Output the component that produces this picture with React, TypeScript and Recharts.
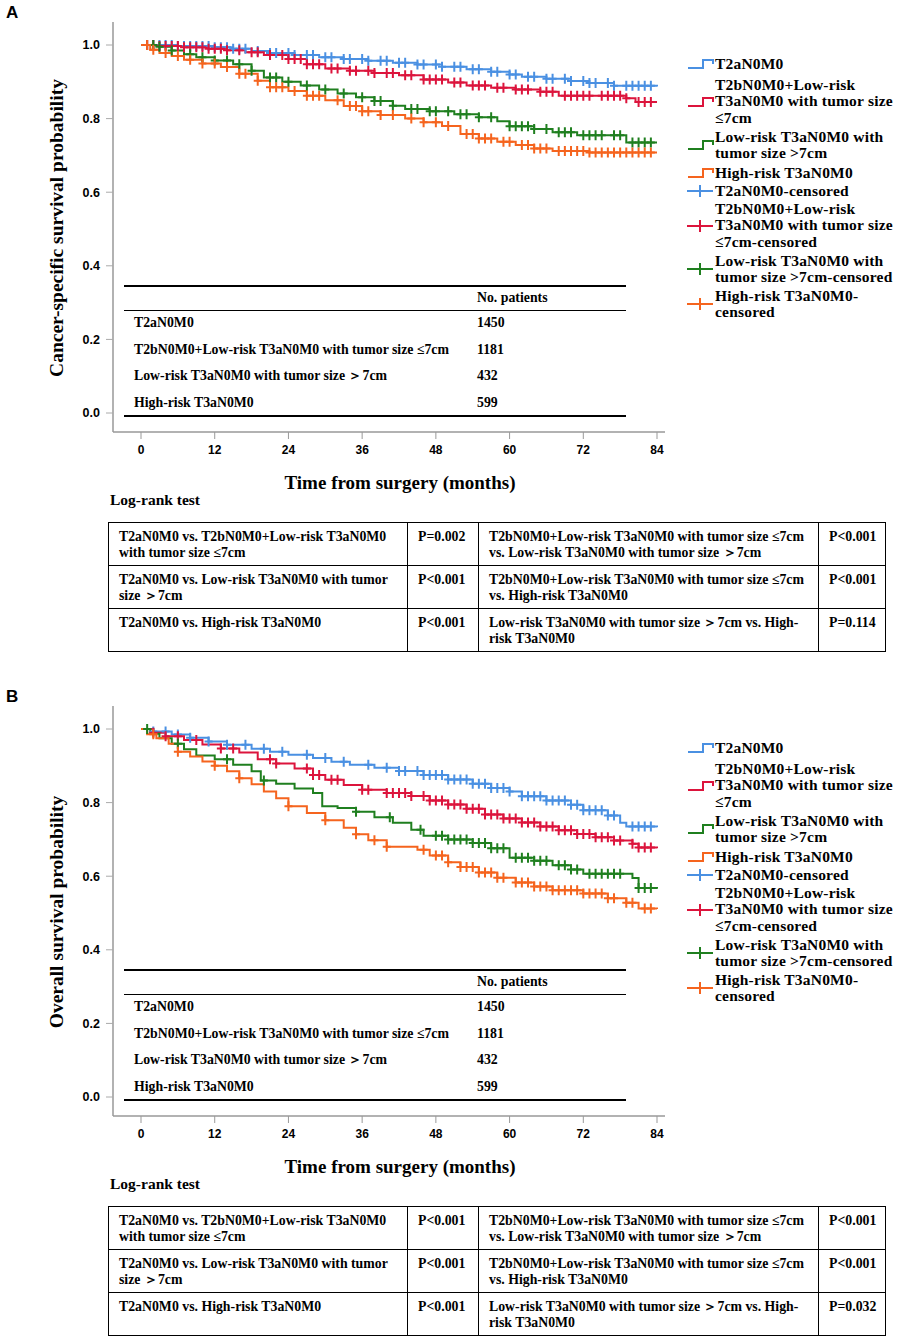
import React from 'react';
import { ComposedChart, Line, Scatter, XAxis, YAxis } from 'recharts';

type Pt = [number, number];

const months = [0, 12, 24, 36, 48, 60, 72, 84];
const survTicks = [0, 0.2, 0.4, 0.6, 0.8, 1.0];
const colors = ['#4a90e2', '#dc143c', '#1f7f1f', '#f5641e'];

const groups = [
  'T2aN0M0',
  'T2bN0M0+Low-risk T3aN0M0 with tumor size ≤7cm',
  'Low-risk T3aN0M0 with tumor size ＞7cm',
  'High-risk T3aN0M0',
];
const patients = [1450, 1181, 432, 599];

// cancer-specific survival, step points [month, survival]
const cssT2a: Pt[] = [[0, 1], [6, 0.997], [12, 0.994], [15, 0.99], [18, 0.984], [21, 0.978], [25, 0.973], [29, 0.967], [33, 0.962], [37, 0.957], [41, 0.952], [45, 0.947], [49, 0.941], [53, 0.934], [57, 0.927], [60, 0.92], [62, 0.914], [66, 0.908], [70, 0.902], [73, 0.897], [77, 0.889], [84, 0.887]];
const cssT2b: Pt[] = [[0, 1], [3, 0.997], [7, 0.994], [11, 0.99], [14, 0.986], [17, 0.98], [20, 0.973], [24, 0.962], [27, 0.948], [30, 0.936], [34, 0.93], [38, 0.924], [42, 0.918], [46, 0.906], [50, 0.898], [53, 0.89], [57, 0.884], [61, 0.879], [65, 0.873], [68, 0.862], [79, 0.855], [80.5, 0.845], [84, 0.845]];
const cssLow: Pt[] = [[0, 1], [3, 0.995], [5, 0.985], [7, 0.975], [9, 0.967], [12, 0.958], [15, 0.948], [18, 0.93], [20, 0.912], [23, 0.9], [26, 0.89], [29, 0.879], [32, 0.868], [35, 0.858], [38, 0.848], [41, 0.835], [43, 0.826], [47, 0.82], [51, 0.812], [55, 0.804], [58, 0.793], [60, 0.779], [64, 0.772], [67, 0.763], [71, 0.755], [79, 0.735], [84, 0.735]];
const cssHigh: Pt[] = [[0, 1], [1.5, 0.987], [3, 0.978], [5, 0.97], [7, 0.96], [10, 0.95], [13, 0.94], [16, 0.922], [19, 0.903], [21, 0.885], [24, 0.875], [27, 0.862], [30, 0.85], [33, 0.834], [36, 0.82], [39, 0.81], [43, 0.8], [46, 0.79], [49, 0.78], [52, 0.758], [55, 0.746], [58, 0.737], [61, 0.728], [64, 0.719], [67, 0.712], [73, 0.708], [84, 0.708]];

// censoring times (months)
const cssT2aCens = [1, 2, 3, 4, 5, 6, 7, 8, 9, 10, 11, 12, 13, 14, 15, 16, 17, 19, 21, 22, 24, 25, 27, 28, 30, 31, 33, 34, 36, 37, 39, 40, 42, 43, 45, 46, 48, 49, 51, 52, 54, 55, 57, 58, 60, 61, 63, 64, 66, 67, 69, 70, 72, 73, 74, 76, 77, 79, 80, 81, 82, 83];
const cssT2bCens = [1, 2, 3, 4, 5, 6, 7, 8, 9, 10, 11, 12, 13, 14, 16, 18, 19, 21, 23, 24, 25, 26, 27, 28, 29, 31, 32, 34, 35, 37, 38, 40, 41, 43, 44, 46, 47, 48, 49, 51, 52, 54, 55, 56, 58, 59, 61, 62, 63, 65, 66, 67, 69, 70, 71, 72, 73, 75, 76, 77, 78, 79, 81, 82, 83];
const cssLowCens = [2, 3, 5, 8, 10, 12, 14, 16, 18, 21, 22, 24, 27, 30, 33, 36, 38, 39, 41, 44, 45, 47, 48, 50, 52, 53, 55, 57, 60, 61, 62, 63, 64, 66, 68, 69, 70, 72, 73, 74, 75, 77, 78, 80, 81, 82, 83];
const cssHighCens = [1, 2, 4, 6, 8, 10, 12, 14, 16, 17, 19, 21, 22, 23, 25, 27, 28, 29, 32, 34, 35, 36, 37, 39, 41, 44, 46, 48, 50, 53, 54, 55, 56, 57, 59, 60, 62, 63, 64, 65, 66, 68, 69, 70, 71, 72, 73, 74, 75, 76, 77, 78, 79, 80, 81, 82, 83];

// overall survival
const osT2a: Pt[] = [[0, 1], [2, 0.993], [5, 0.985], [8, 0.976], [11, 0.966], [14, 0.957], [18, 0.946], [21, 0.938], [24, 0.93], [28, 0.921], [31, 0.911], [34, 0.903], [38, 0.895], [42, 0.886], [46, 0.875], [50, 0.863], [54, 0.851], [57, 0.84], [60, 0.83], [62, 0.817], [66, 0.806], [70, 0.794], [72, 0.779], [76, 0.765], [78, 0.745], [79, 0.735], [84, 0.733]];
const osT2b: Pt[] = [[0, 1], [2, 0.99], [4, 0.98], [7, 0.97], [10, 0.958], [13, 0.947], [16, 0.936], [19, 0.918], [22, 0.906], [25, 0.893], [28, 0.875], [30, 0.862], [33, 0.848], [36, 0.835], [40, 0.826], [44, 0.818], [47, 0.806], [50, 0.795], [53, 0.783], [56, 0.768], [59, 0.757], [62, 0.746], [65, 0.735], [68, 0.725], [71, 0.715], [74, 0.706], [77, 0.697], [80, 0.688], [81, 0.678], [84, 0.676]];
const osLow: Pt[] = [[0, 1], [1.5, 0.987], [3, 0.975], [5, 0.96], [7, 0.945], [9, 0.928], [12, 0.918], [15, 0.903], [18, 0.885], [19.5, 0.86], [22, 0.851], [25, 0.838], [28, 0.826], [29.5, 0.79], [32, 0.785], [35, 0.775], [38, 0.76], [41, 0.745], [44, 0.726], [46, 0.71], [50, 0.7], [54, 0.69], [57, 0.676], [60, 0.65], [64, 0.642], [67, 0.63], [70, 0.618], [72, 0.607], [80, 0.595], [81, 0.568], [84, 0.566]];
const osHigh: Pt[] = [[0, 1], [1, 0.986], [2.5, 0.975], [4.5, 0.96], [6, 0.938], [8, 0.925], [10, 0.912], [12, 0.9], [14, 0.885], [16, 0.866], [18, 0.85], [20, 0.83], [22, 0.812], [24, 0.79], [27, 0.772], [30, 0.752], [33, 0.732], [35, 0.714], [37, 0.698], [40, 0.68], [45, 0.672], [47, 0.656], [50, 0.638], [52, 0.625], [55, 0.61], [58, 0.596], [61, 0.583], [64, 0.572], [67, 0.562], [72, 0.553], [76, 0.54], [79, 0.528], [81, 0.512], [84, 0.511]];

const osT2aCens = [2, 4, 6, 8, 11, 14, 17, 20, 23, 27, 30, 33, 37, 40, 42, 43, 45, 46, 47, 48, 49, 50, 51, 52, 53, 54, 55, 56, 57, 58, 59, 60, 62, 63, 64, 65, 66, 67, 68, 69, 70, 71, 72, 73, 74, 75, 76, 77, 80, 81, 82, 83];
const osT2bCens = [2, 4, 6, 9, 13, 15, 21, 22, 27, 28, 29, 31, 32, 36, 37, 40, 41, 42, 43, 44, 46, 47, 48, 49, 50, 51, 52, 53, 54, 55, 56, 57, 58, 59, 60, 61, 62, 63, 64, 65, 66, 67, 68, 69, 70, 71, 72, 73, 74, 75, 76, 77, 78, 80, 81, 82, 83];
const osLowCens = [1, 6, 14, 20, 35, 40.5, 45.5, 48, 49, 50, 51, 52, 53, 54, 55, 56, 57, 58, 59, 61, 62, 63, 64, 65, 66, 68, 69, 70, 71, 73, 74, 75, 76, 77, 78, 81, 82, 83];
const osHighCens = [2, 6, 12, 16, 24, 30, 35, 38, 40, 46, 48, 49, 50, 52, 53, 54, 55, 56, 57, 58, 59, 61, 62, 63, 64, 65, 66, 67, 68, 69, 70, 71, 72, 73, 74, 75, 76, 77, 79, 80, 82, 83];

const cssP = ['P=0.002', 'P<0.001', 'P<0.001', 'P<0.001', 'P<0.001', 'P=0.114'];
const osP = ['P<0.001', 'P<0.001', 'P<0.001', 'P<0.001', 'P<0.001', 'P=0.032'];

const leftCompare = [
  ['T2aN0M0 vs. T2bN0M0+Low-risk T3aN0M0', 'with tumor size ≤7cm'],
  ['T2aN0M0 vs. Low-risk T3aN0M0 with tumor', 'size ＞7cm'],
  ['T2aN0M0 vs. High-risk T3aN0M0'],
];
const rightCompare = [
  ['T2bN0M0+Low-risk T3aN0M0 with tumor size ≤7cm', 'vs. Low-risk T3aN0M0 with tumor size ＞7cm'],
  ['T2bN0M0+Low-risk T3aN0M0 with tumor size ≤7cm', 'vs. High-risk T3aN0M0'],
  ['Low-risk T3aN0M0 with tumor size ＞7cm vs. High-', 'risk T3aN0M0'],
];

const legendItems = [
  ['T2aN0M0'],
  ['T2bN0M0+Low-risk', 'T3aN0M0 with tumor size', '≤7cm'],
  ['Low-risk T3aN0M0 with', 'tumor size >7cm'],
  ['High-risk T3aN0M0'],
  ['T2aN0M0-censored'],
  ['T2bN0M0+Low-risk', 'T3aN0M0 with tumor size', '≤7cm-censored'],
  ['Low-risk T3aN0M0 with', 'tumor size >7cm-censored'],
  ['High-risk T3aN0M0-', 'censored'],
];
const legendTops = [64, 85, 137, 173, 191, 209, 261, 296];

const serif = '"Liberation Serif", "Times New Roman", serif';
const sans = '"Liberation Sans", Arial, sans-serif';
const LH = 16.5;

const toRows = (pts: Pt[]) => pts.map(([t, s]) => ({ t, s }));
const survAt = (pts: Pt[], t: number) => {
  let s = 1;
  for (const [pt, ps] of pts) if (pt <= t) s = ps;
  return s;
};
const censorRows = (pts: Pt[], times: number[]) => times.map((t) => ({ t, s: survAt(pts, t) }));

function Cross(props: any) {
  const { cx, cy, color } = props;
  if (cx == null || cy == null) return null;
  return <path d={`M${cx - 4},${cy}H${cx + 4}M${cx},${cy - 5}V${cy + 5}`} stroke={color} strokeWidth={2} fill="none" />;
}

function LegendIcon({ kind, color }: { kind: 'step' | 'cross'; color: string }) {
  return (
    <svg width={27} height={14} style={{ position: 'absolute', left: 0, top: -7 }}>
      {kind === 'step' ? (
        <path d="M1 11H16V3H26V7" stroke={color} strokeWidth={2} fill="none" />
      ) : (
        <path d="M0 7H26M13 1V13" stroke={color} strokeWidth={2} fill="none" />
      )}
    </svg>
  );
}

interface PanelProps {
  oy: number;
  letter: string;
  yLabel: string;
  steps: Pt[][];
  cens: number[][];
  pvals: string[];
}

function Panel({ oy, letter, yLabel, steps, cens, pvals }: PanelProps) {
  const tickStyle = { fill: '#000', fontSize: 12, fontWeight: 'bold', fontFamily: sans };
  const cell = {
    border: '1.3px solid #000',
    verticalAlign: 'top' as const,
    padding: '6px 6px 0 10px',
    height: 36,
    whiteSpace: 'nowrap' as const,
  };
  return (
    <>
      <div style={{ position: 'absolute', left: 6, top: oy + 3, font: `bold 17px ${sans}` }}>{letter}</div>
      <div style={{ position: 'absolute', left: 0, top: oy }}>
        <ComposedChart width={680} height={480} margin={{ top: 22, right: 15, bottom: 8, left: 0 }}>
          <XAxis
            dataKey="t"
            type="number"
            domain={[-4.56, 85.3]}
            ticks={months}
            allowDataOverflow
            interval={0}
            height={40}
            tickSize={7}
            tickMargin={6}
            axisLine={{ stroke: '#999', strokeWidth: 1.5 }}
            tickLine={{ stroke: '#999' }}
            tick={tickStyle}
          />
          <YAxis
            dataKey="s"
            type="number"
            domain={[-0.0516, 1.0625]}
            ticks={survTicks}
            allowDataOverflow
            interval={0}
            width={113}
            tickSize={7}
            tickMargin={6}
            tickFormatter={(v: number) => v.toFixed(1)}
            axisLine={{ stroke: '#999', strokeWidth: 1.5 }}
            tickLine={{ stroke: '#aaa' }}
            tick={{ ...tickStyle, fontSize: 12.5 }}
          />
          {steps.map((d, i) => (
            <Line
              key={'l' + i}
              data={toRows(d)}
              dataKey="s"
              type="stepAfter"
              stroke={colors[i]}
              strokeWidth={2}
              dot={false}
              isAnimationActive={false}
            />
          ))}
          {cens.map((c, i) => (
            <Scatter
              key={'c' + i}
              data={censorRows(steps[i], c)}
              dataKey="s"
              fill={colors[i]}
              shape={(p: any) => <Cross {...p} color={colors[i]} />}
              isAnimationActive={false}
            />
          ))}
        </ComposedChart>
      </div>

      <div
        style={{
          position: 'absolute',
          left: 57,
          top: oy + 228,
          transform: 'translate(-50%, -50%) rotate(-90deg)',
          whiteSpace: 'nowrap',
          font: `bold 19.5px ${serif}`,
        }}
      >
        {yLabel}
      </div>
      <div
        style={{
          position: 'absolute',
          left: 400,
          top: oy + 483,
          transform: 'translate(-50%, -50%)',
          whiteSpace: 'nowrap',
          font: `bold 19px ${serif}`,
        }}
      >
        Time from surgery (months)
      </div>

      {/* patient numbers table inside the plot */}
      <div style={{ position: 'absolute', left: 124, width: 502, top: oy + 285, borderTop: '2px solid #000' }} />
      <div style={{ position: 'absolute', left: 124, width: 502, top: oy + 310, borderTop: '1.5px solid #000' }} />
      <div style={{ position: 'absolute', left: 124, width: 502, top: oy + 415, borderTop: '2px solid #000' }} />
      <div style={{ position: 'absolute', left: 477, top: oy + 298, transform: 'translateY(-50%)', font: `bold 13.8px ${serif}`, whiteSpace: 'nowrap' }}>
        No. patients
      </div>
      {groups.map((g, i) => (
        <React.Fragment key={g}>
          <div style={{ position: 'absolute', left: 134, top: oy + 323 + i * 26.7, transform: 'translateY(-50%)', font: `bold 13.8px ${serif}`, whiteSpace: 'nowrap' }}>
            {g}
          </div>
          <div style={{ position: 'absolute', left: 477, top: oy + 323 + i * 26.7, transform: 'translateY(-50%)', font: `bold 13.8px ${serif}` }}>
            {patients[i]}
          </div>
        </React.Fragment>
      ))}

      {/* legend */}
      {legendItems.map((lines, i) => {
        const top = oy + legendTops[i];
        const iconY = ((lines.length - 1) * LH) / 2;
        return (
          <div key={i} style={{ position: 'absolute', left: 687, top: top - LH / 2 }}>
            <div style={{ position: 'absolute', left: 0, top: iconY + LH / 2 }}>
              <LegendIcon kind={i < 4 ? 'step' : 'cross'} color={colors[i % 4]} />
            </div>
            <div style={{ marginLeft: 28, font: `bold 15.5px/${LH}px ${serif}`, letterSpacing: 0.2, whiteSpace: 'nowrap' }}>
              {lines.map((l) => (
                <div key={l}>{l}</div>
              ))}
            </div>
          </div>
        );
      })}

      <div style={{ position: 'absolute', left: 110, top: oy + 500, transform: 'translateY(-50%)', font: `bold 15.5px ${serif}` }}>
        Log-rank test
      </div>
      <table
        style={{
          position: 'absolute',
          left: 108,
          top: oy + 522,
          width: 777,
          borderCollapse: 'collapse',
          tableLayout: 'fixed',
          font: `bold 13.8px/16px ${serif}`,
        }}
      >
        <colgroup>
          <col style={{ width: 299 }} />
          <col style={{ width: 71 }} />
          <col style={{ width: 340 }} />
          <col style={{ width: 67 }} />
        </colgroup>
        <tbody>
          {leftCompare.map((lc, r) => (
            <tr key={r}>
              <td style={cell}>
                {lc.map((l, k) => (
                  <div key={k}>{l}</div>
                ))}
              </td>
              <td style={cell}>{pvals[r]}</td>
              <td style={cell}>
                {rightCompare[r].map((l, k) => (
                  <div key={k}>{l}</div>
                ))}
              </td>
              <td style={cell}>{pvals[r + 3]}</td>
            </tr>
          ))}
        </tbody>
      </table>
    </>
  );
}

export default function App() {
  return (
    <div
      style={{
        position: 'absolute',
        left: 0,
        top: 0,
        width: 898,
        height: 1339,
        background: '#fff',
        color: '#000',
        fontFamily: serif,
        overflow: 'hidden',
      }}
    >
      <Panel
        oy={0}
        letter="A"
        yLabel="Cancer-specific survival probability"
        steps={[cssT2a, cssT2b, cssLow, cssHigh]}
        cens={[cssT2aCens, cssT2bCens, cssLowCens, cssHighCens]}
        pvals={cssP}
      />
      <Panel
        oy={684}
        letter="B"
        yLabel="Overall survival probability"
        steps={[osT2a, osT2b, osLow, osHigh]}
        cens={[osT2aCens, osT2bCens, osLowCens, osHighCens]}
        pvals={osP}
      />
    </div>
  );
}
